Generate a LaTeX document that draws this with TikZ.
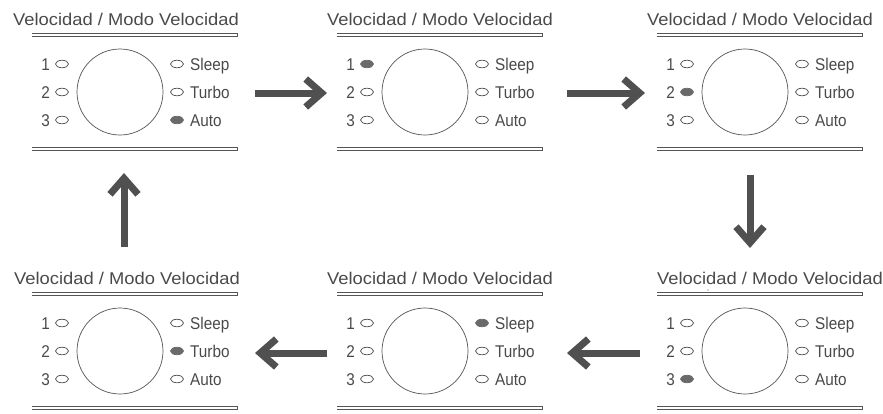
\documentclass[tikz,border=0pt]{standalone}
\usepackage{fontspec}
\setmainfont{Liberation Sans}
\newfontfamily\titlefont[FakeStretch=1.08]{Liberation Sans}
\newfontfamily\labelfont[FakeStretch=0.9]{Liberation Sans}
\usetikzlibrary{arrows.meta,shapes.geometric}
\definecolor{txt}{HTML}{4A4A4A}
\definecolor{ln}{HTML}{555555}
\definecolor{litc}{HTML}{6A6A6A}
\definecolor{arr}{HTML}{505050}
\tikzset{
  titletext/.style={font=\titlefont\fontsize{17pt}{17pt}\selectfont, text=txt, inner sep=0pt, anchor=base},
  labeltext/.style={font=\labelfont\fontsize{17pt}{17pt}\selectfont, text=txt, inner sep=0pt},
  ledoff/.style={ellipse, draw=ln, line width=0.75pt, fill=white, minimum width=13pt, minimum height=7.5pt, inner sep=0pt},
  ledon/.style={ledoff, fill=litc, draw=litc},
  knob/.style={circle, draw=ln, line width=0.7pt, minimum size=86pt, inner sep=0pt},
  barline/.style={draw=ln, line width=0.8pt},
  bigarrow/.style={draw=arr, line width=7pt, -{Straight Barb[length=16pt, width=28pt]}},
}
% #1 ox, #2 oy, #3 title x (relative), #4 name, #5 lit led (1-3 left, 4-6 right)
\newcommand\ledpanel[5]{%
  \begin{scope}[shift={(#1,#2)}]
    \node[titletext] (#4-title) at (#3,25) {Velocidad / Modo Velocidad};
    \draw[barline] (32,33.4) -- (237,33.4) -- (237,36.6) -- (32,36.6);
    \draw[barline] (32,147.4) -- (237,147.4) -- (237,150.6) -- (32,150.6);
    \node[knob] (#4-knob) at (120,92) {};
    \node[labeltext, anchor=base east] (#4-d1) at (50,70) {1};
    \node[labeltext, anchor=base east] (#4-d2) at (50,98) {2};
    \node[labeltext, anchor=base east] (#4-d3) at (50,126) {3};
    \ifnum#5=1 \node[ledon] (#4-l1) at (62,64) {};\else \node[ledoff] (#4-l1) at (62,64) {};\fi
    \ifnum#5=2 \node[ledon] (#4-l2) at (62,92) {};\else \node[ledoff] (#4-l2) at (62,92) {};\fi
    \ifnum#5=3 \node[ledon] (#4-l3) at (62,120) {};\else \node[ledoff] (#4-l3) at (62,120) {};\fi
    \ifnum#5=4 \node[ledon] (#4-r1) at (177,64) {};\else \node[ledoff] (#4-r1) at (177,64) {};\fi
    \ifnum#5=5 \node[ledon] (#4-r2) at (177,92) {};\else \node[ledoff] (#4-r2) at (177,92) {};\fi
    \ifnum#5=6 \node[ledon] (#4-r3) at (177,120) {};\else \node[ledoff] (#4-r3) at (177,120) {};\fi
    \node[labeltext, anchor=base west] (#4-sleep) at (190,70) {Sleep};
    \node[labeltext, anchor=base west] (#4-turbo) at (190,98) {Turbo};
    \node[labeltext, anchor=base west] (#4-auto) at (190,126) {Auto};
  \end{scope}%
}
\begin{document}
\begin{tikzpicture}[x=1pt, y=-1pt]
  \useasboundingbox[fill=white] (0,0) rectangle (883,413);
  \ledpanel{0}{0}{126}{pa}{6}
  \ledpanel{305}{0}{135}{pb}{1}
  \ledpanel{625}{0}{135}{pc}{2}
  \ledpanel{625}{259}{145}{pd}{3}
  \ledpanel{305}{259}{135}{pe}{4}
  \ledpanel{0}{259}{127}{pf}{5}
  \fill[ln] (708,290) circle (0.7pt);
  \coordinate (a1s) at (255,93);  \coordinate (a1e) at (327,93);
  \coordinate (a2s) at (567,93);  \coordinate (a2e) at (645,93);
  \coordinate (a3s) at (750,175); \coordinate (a3e) at (750,248);
  \coordinate (a4s) at (640,353); \coordinate (a4e) at (567,353);
  \coordinate (a5s) at (327,353); \coordinate (a5e) at (255,353);
  \coordinate (a6s) at (124,247); \coordinate (a6e) at (124,173);
  \draw[bigarrow] (a1s) -- (a1e);
  \draw[bigarrow] (a2s) -- (a2e);
  \draw[bigarrow] (a3s) -- (a3e);
  \draw[bigarrow] (a4s) -- (a4e);
  \draw[bigarrow] (a5s) -- (a5e);
  \draw[bigarrow] (a6s) -- (a6e);
\end{tikzpicture}
\end{document}
